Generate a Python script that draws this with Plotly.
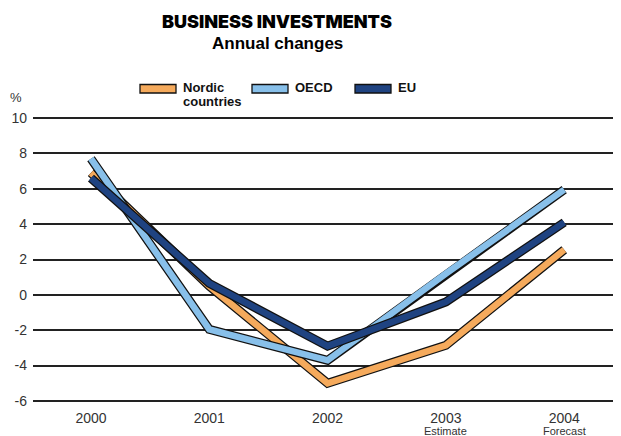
import plotly.graph_objects as go

years = ["2000", "2001", "2002", "2003", "2004"]
year_notes = ["", "", "", "Estimate", "Forecast"]
nordic = [6.9, 0.5, -5.0, -2.85, 2.55]
oecd = [7.7, -1.95, -3.7, 1.2, 5.95]
eu = [6.6, 0.65, -2.9, -0.4, 4.1]
y_ticks = [-6, -4, -2, 0, 2, 4, 6, 8, 10]
y_ticklabels = ["-6", "-4", "-2", "0", "2", "4", "6", "8", "10"]

series = [
    ("Nordic", "countries", nordic, "#F5AA5C", 140),
    ("OECD", None, oecd, "#88C0EA", 252),
    ("EU", None, eu, "#1F4381", 355),
]

# page body has an 8px margin: figure is drawn 8px in from top-left
OFF = 8
W, H = 621 - OFF, 436 - OFF
PL, PR = 33, 621          # plot area left/right in screen px
PT, PB = 117, 402         # plot area top/bottom in screen px
XR = [-0.49, 4.48]


def px(sx):
    return (sx - PL) / (PR - PL)


def py(sy):
    return (PB - sy) / (PB - PT)


fig = go.Figure()
for name, name2, vals, col, lx in series:
    fig.add_trace(go.Scatter(x=years, y=vals, mode="lines",
                             line=dict(color="#111111", width=9),
                             showlegend=False, hoverinfo="skip"))
    fig.add_trace(go.Scatter(x=years, y=vals, mode="lines", name=name,
                             line=dict(color=col, width=6.5), showlegend=False))

shapes = []
annotations = []
lfont = dict(family="Liberation Sans", size=13, color="#111111")
for name, name2, vals, col, lx in series:
    shapes.append(dict(type="rect", xref="paper", yref="paper",
                       x0=px(lx), x1=px(lx + 36), y0=py(93), y1=py(84.5),
                       fillcolor=col, line=dict(color="#111111", width=1.3)))
    annotations.append(dict(xref="paper", yref="paper", x=px(lx + 41), y=py(88),
                            xanchor="left", yanchor="middle", text="<b>" + name + "</b>",
                            showarrow=False, font=lfont))
    if name2:
        annotations.append(dict(xref="paper", yref="paper", x=px(lx + 41), y=py(101.5),
                                xanchor="left", yanchor="middle", text="<b>" + name2 + "</b>",
                                showarrow=False, font=lfont))

annotations.append(dict(xref="paper", yref="paper", x=px(277), y=py(21.5),
                        xanchor="center", yanchor="middle", showarrow=False,
                        text="BUSINESS INVESTMENTS",
                        font=dict(family="Inter", size=18, color="#000000", weight=900)))
annotations.append(dict(xref="paper", yref="paper", x=px(277), y=py(43),
                        xanchor="center", yanchor="middle", showarrow=False,
                        text="<b>Annual changes</b>",
                        font=dict(family="Liberation Sans", size=17, color="#000000")))
annotations.append(dict(xref="paper", yref="paper", x=px(16), y=py(97),
                        xanchor="center", yanchor="middle", showarrow=False, text="%",
                        font=dict(family="Liberation Sans", size=13, color="#333333")))
for i, note in enumerate(year_notes):
    if note:
        annotations.append(dict(xref="paper", yref="paper",
                                x=(i - XR[0]) / (XR[1] - XR[0]), y=py(431),
                                xanchor="center", yanchor="middle", showarrow=False, text=note,
                                font=dict(family="Liberation Sans", size=11, color="#333333")))

fig.update_layout(
    width=W, height=H,
    margin=dict(l=PL - OFF, r=0, t=PT - OFF, b=H - (PB - OFF), autoexpand=False),
    paper_bgcolor="white", plot_bgcolor="white",
    showlegend=False,
    shapes=shapes, annotations=annotations,
    xaxis=dict(type="category", range=XR, showgrid=False, zeroline=False,
               tickmode="array", tickvals=years, ticktext=years,
               ticks="", showline=False, ticklabelstandoff=6,
               tickfont=dict(family="Liberation Sans", size=14, color="#333333")),
    yaxis=dict(range=[-6.06, 10.06], tickmode="array", tickvals=y_ticks, ticktext=y_ticklabels,
               showgrid=True, gridcolor="#222222",
               gridwidth=1.5, zeroline=True, zerolinecolor="#222222", zerolinewidth=1.5,
               ticks="", showline=False, ticklabelstandoff=5,
               tickfont=dict(family="Liberation Sans", size=14, color="#333333")),
)

fig.write_html("out.html")
